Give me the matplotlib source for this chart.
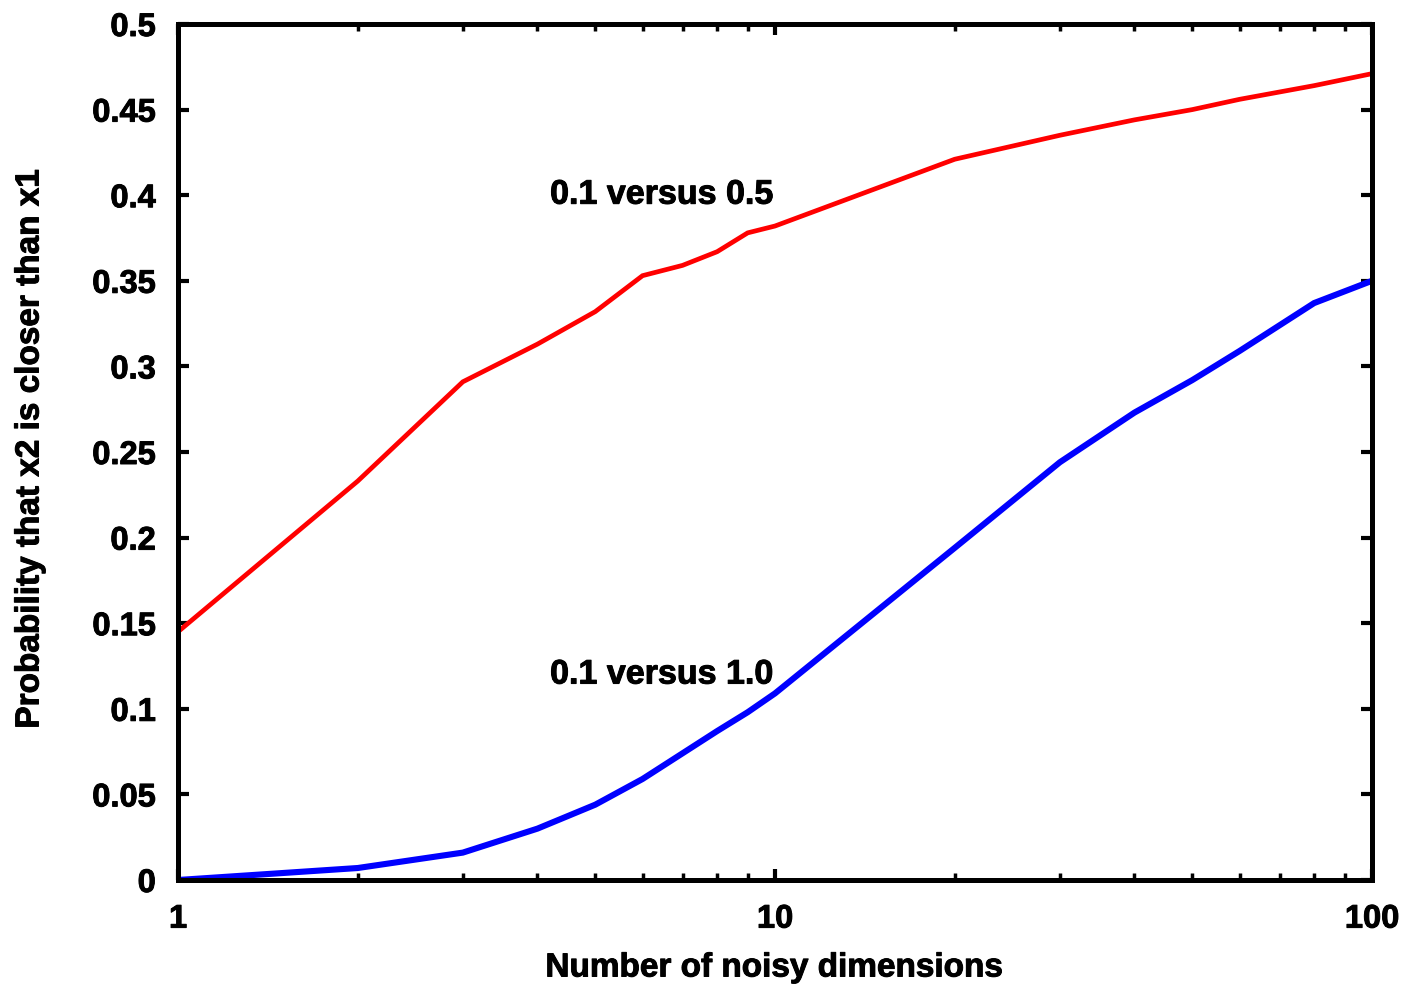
import matplotlib
matplotlib.use("Agg")
import matplotlib.pyplot as plt
import matplotlib.patheffects as pe
from matplotlib.ticker import FixedLocator, FixedFormatter, LogLocator, NullFormatter

plt.rcParams['font.family'] = ['Liberation Sans', 'DejaVu Sans']
plt.rcParams['font.weight'] = 'bold'

# Data
dims = [1, 2, 3, 4, 5, 6, 7, 8, 9, 10, 20, 30, 40, 50, 60, 80, 100]
prob_05 = [0.145, 0.233, 0.291, 0.313, 0.332, 0.353, 0.359, 0.367, 0.378, 0.382,
           0.421, 0.435, 0.444, 0.450, 0.456, 0.464, 0.471]
prob_10 = [0.0, 0.007, 0.016, 0.030, 0.044, 0.059, 0.074, 0.087, 0.098, 0.109,
           0.194, 0.244, 0.273, 0.292, 0.309, 0.337, 0.350]

y_ticks = [0, 0.05, 0.1, 0.15, 0.2, 0.25, 0.3, 0.35, 0.4, 0.45, 0.5]
y_tick_labels = ["0", "0.05", "0.1", "0.15", "0.2", "0.25", "0.3", "0.35", "0.4", "0.45", "0.5"]
x_ticks = [1, 10, 100]
x_tick_labels = ["1", "10", "100"]

label_05 = "0.1 versus 0.5"
label_10 = "0.1 versus 1.0"
xlabel = "Number of noisy dimensions"
ylabel = "Probability that x2 is closer than x1"

heavy = [pe.withStroke(linewidth=0.7, foreground='black')]

fig = plt.figure(figsize=(14.10, 9.89), dpi=100)
ax = fig.add_axes([178/1410, 1 - 880/989, (1372-178)/1410, (880-24)/989])

ax.plot(dims, prob_05, color='#ff0000', lw=3.4, solid_joinstyle='miter', zorder=3)
ax.plot(dims, prob_10, color='#0000ff', lw=4.4, solid_joinstyle='miter', zorder=3)

ax.set_xscale('log')
ax.set_xlim(1, 100)
ax.set_ylim(0, 0.5)

ax.xaxis.set_major_locator(FixedLocator(x_ticks))
ax.xaxis.set_major_formatter(FixedFormatter(x_tick_labels))
ax.xaxis.set_minor_locator(LogLocator(base=10, subs=[2, 3, 4, 5, 6, 7, 8, 9]))
ax.xaxis.set_minor_formatter(NullFormatter())
ax.yaxis.set_major_locator(FixedLocator(y_ticks))
ax.yaxis.set_major_formatter(FixedFormatter(y_tick_labels))

for s in ax.spines.values():
    s.set_linewidth(3.6)
    s.set_zorder(4)

ax.tick_params(which='major', direction='in', length=8, width=3.0,
               top=True, right=True, labelsize=23.5, color='black')
ax.tick_params(which='minor', direction='in', length=5, width=2.5,
               top=True, right=True)
ax.tick_params(axis='y', which='major', pad=16)
ax.tick_params(axis='x', which='major', pad=17)
for lab in ax.get_xticklabels() + ax.get_yticklabels():
    lab.set_fontweight('bold')
    lab.set_path_effects(heavy)

t1 = ax.text(4.2, 0.400, label_05, fontsize=24.5, fontweight='bold', va='center', ha='left')
t2 = ax.text(4.2, 0.1197, label_10, fontsize=24.5, fontweight='bold', va='center', ha='left')
t1.set_path_effects(heavy)
t2.set_path_effects(heavy)

xl = ax.set_xlabel(xlabel, fontsize=24, fontweight='bold', va='center')
ax.xaxis.set_label_coords(0.5, (880 - 968) / 856)
yl = ax.set_ylabel(ylabel, fontsize=24, fontweight='bold', va='center')
ax.yaxis.set_label_coords((30 - 178) / 1194, (880 - 448) / 856)
xl.set_path_effects(heavy)
yl.set_path_effects(heavy)

fig.savefig("out.png", dpi=100, facecolor='white')
